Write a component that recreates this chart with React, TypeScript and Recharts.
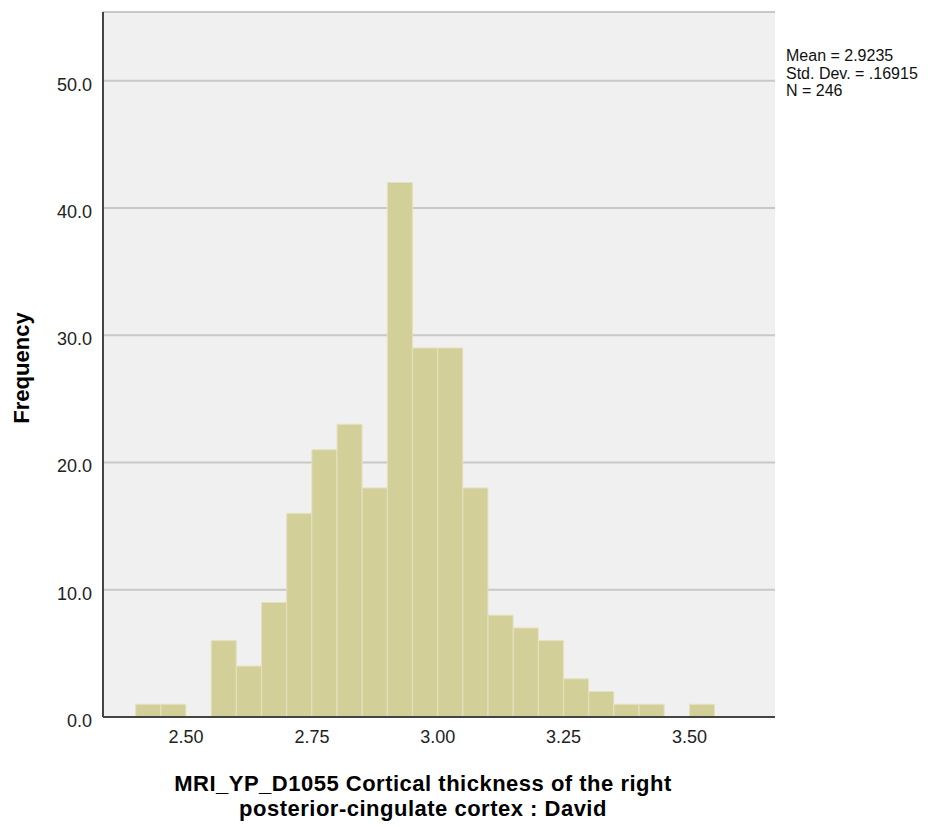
import { ComposedChart, Bar, XAxis, YAxis, CartesianGrid } from 'recharts';

// bin midpoints (bin width .05, first bin 2.40-2.45)
const binMids = [
  2.425, 2.475, 2.525, 2.575, 2.625, 2.675, 2.725, 2.775, 2.825, 2.875, 2.925, 2.975,
  3.025, 3.075, 3.125, 3.175, 3.225, 3.275, 3.325, 3.375, 3.425, 3.475, 3.525,
];
const counts = [1, 1, 0, 6, 4, 9, 16, 21, 23, 18, 42, 29, 29, 18, 8, 7, 6, 3, 2, 1, 1, 0, 1];

const xTicks = [2.5, 2.75, 3.0, 3.25, 3.5];
const yTicks = [0, 10, 20, 30, 40, 50];

const statLines = ['Mean = 2.9235', 'Std. Dev. = .16915', 'N = 246'];
const xTitle = ['MRI_YP_D1055 Cortical thickness of the right', 'posterior-cingulate cortex : David'];
const yTitle = 'Frequency';

const data = binMids.map((mid, i) => ({ mid, count: counts[i] }));

const FONT = '"Liberation Sans", Arial, sans-serif';
const X_DOMAIN: [number, number] = [2.335, 3.67];
const Y_DOMAIN: [number, number] = [0, 55.4];

const XTick = (props: any) => {
  const { x, payload } = props;
  return (
    <text x={x} y={743} textAnchor="middle" fontSize={18} fill="#222" fontFamily={FONT}>
      {Number(payload.value).toFixed(2)}
    </text>
  );
};

const YTick = (props: any) => {
  const { y, payload } = props;
  return (
    <text x={92} y={y + 10} textAnchor="end" fontSize={18} fill="#222" fontFamily={FONT}>
      {Number(payload.value).toFixed(1)}
    </text>
  );
};

export default function App() {
  return (
    <div style={{ position: 'absolute', left: 0, top: 0, width: 939, height: 827, background: '#fff' }}>
      <ComposedChart
        width={939}
        height={827}
        data={data}
        margin={{ top: 12, right: 164, bottom: 0, left: 0 }}
        barCategoryGap={0}
        barGap={0}
      >
        <CartesianGrid vertical={false} fill="#F0F0F0" stroke="#C8C8C8" strokeWidth={2} />
        <XAxis
          type="number"
          dataKey="mid"
          domain={X_DOMAIN}
          allowDataOverflow
          ticks={xTicks}
          interval={0}
          height={110}
          tickLine={false}
          axisLine={{ stroke: '#444', strokeWidth: 2 }}
          tick={<XTick />}
        />
        <XAxis
          xAxisId="top"
          orientation="top"
          type="number"
          domain={X_DOMAIN}
          allowDataOverflow
          height={0}
          tick={false}
          tickLine={false}
          axisLine={{ stroke: '#888', strokeWidth: 2 }}
        />
        <YAxis
          domain={Y_DOMAIN}
          allowDataOverflow
          ticks={yTicks}
          interval={0}
          width={103}
          tickLine={false}
          axisLine={{ stroke: '#444', strokeWidth: 2 }}
          tick={<YTick />}
        />
        <YAxis
          yAxisId="right"
          orientation="right"
          domain={Y_DOMAIN}
          allowDataOverflow
          width={0}
          tick={false}
          tickLine={false}
          axisLine={{ stroke: '#888', strokeWidth: 2 }}
        />
        <Bar dataKey="count" fill="#D3CF98" stroke="#E4E1BE" strokeWidth={1} isAnimationActive={false} />
      </ComposedChart>
      <svg width={939} height={827} style={{ position: 'absolute', left: 0, top: 0, pointerEvents: 'none' }}>
        {statLines.map((s, i) => (
          <text key={s} x={786} y={61 + i * 17.5} fontSize={16} fill="#111" fontFamily={FONT}>
            {s}
          </text>
        ))}
        <text
          x={29}
          y={368}
          textAnchor="middle"
          fontSize={22}
          fontWeight="bold"
          fill="#000"
          fontFamily={FONT}
          transform="rotate(-90, 29, 368)"
        >
          {yTitle}
        </text>
        {xTitle.map((s, i) => (
          <text
            key={s}
            x={423}
            y={791 + i * 25}
            textAnchor="middle"
            fontSize={22}
            fontWeight="bold"
            letterSpacing={0.5}
            fill="#000"
            fontFamily={FONT}
          >
            {s}
          </text>
        ))}
      </svg>
    </div>
  );
}
